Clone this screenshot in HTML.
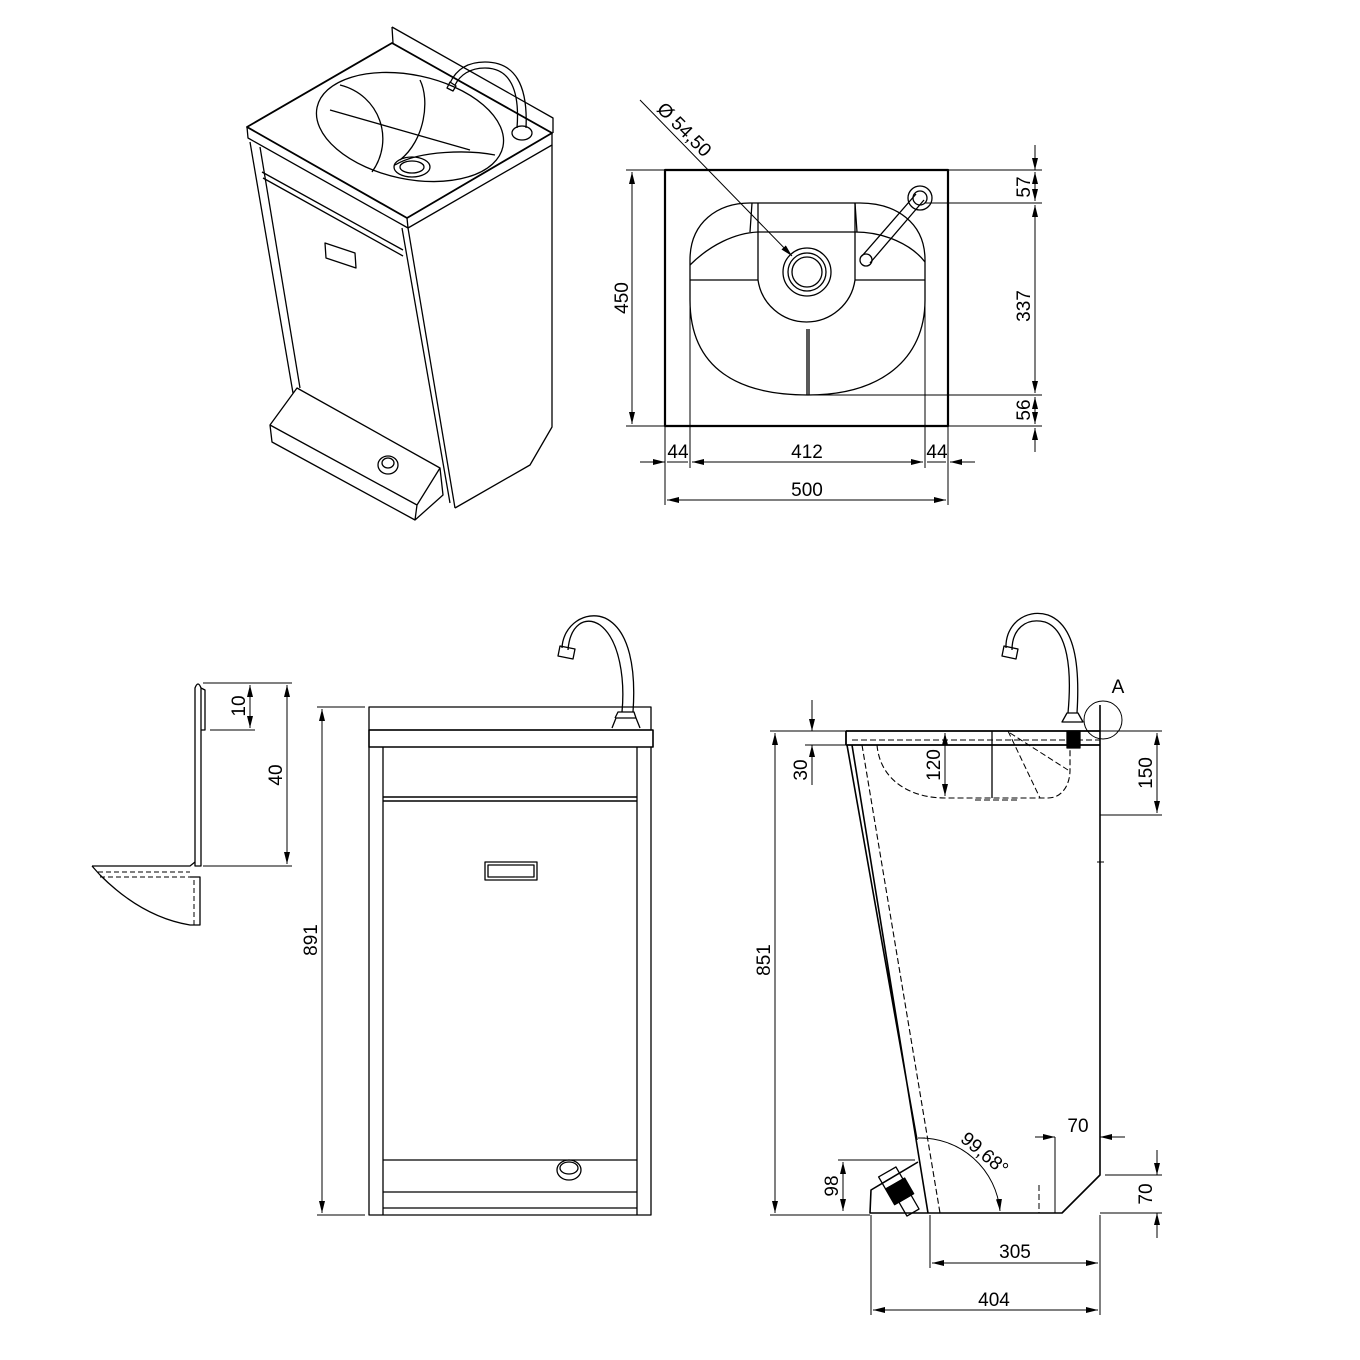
<!DOCTYPE html>
<html><head><meta charset="utf-8"><style>
html,body{margin:0;padding:0;background:#fff}
svg{display:block}
text{font-family:"Liberation Sans",sans-serif;font-size:19px;fill:#000}
</style></head><body>
<svg width="1360" height="1360" viewBox="0 0 1360 1360" xmlns="http://www.w3.org/2000/svg">
<defs>
<marker id="a" viewBox="0 0 12 6" refX="12" refY="3" markerWidth="12" markerHeight="6" orient="auto-start-reverse" markerUnits="userSpaceOnUse"><path d="M0,0 L12,3 L0,6 z" fill="#000"/></marker>
</defs>
<g fill="none" stroke="#000" stroke-width="1.3" stroke-linejoin="round">
<!-- ISO VIEW -->
<path d="M392,27 L553,118 L553,133 M392,27 L393,43"/>
<path d="M247,127 L392,43 L552,133 L407,218 Z" stroke-width="1.8"/>
<path d="M247,127 L248,138 L408,228 L552,145 L552,133 M407,218 L408,228"/>
<ellipse cx="410" cy="127" rx="95" ry="52" transform="rotate(12 410 127)"/>
<path d="M340,85 C380,95 395,140 372,172 M420,80 C430,100 425,140 400,160 M330,110 L470,150 M395,165 C420,150 470,150 495,155"/>
<ellipse cx="412" cy="167" rx="18" ry="10"/><ellipse cx="412" cy="167" rx="12" ry="6"/>
<ellipse cx="522" cy="133" rx="10" ry="7"/>
<path d="M517,128 C520,90 510,68 485,68 C470,68 460,75 455,85 M526,128 C528,85 515,62 485,62 C465,62 455,72 450,83"/>
<path d="M450,82 L456,86 L453,91 L447,88 Z"/>
<path d="M250,142 L293,393 M260,147 L300,388"/>
<path d="M262,172 L403,250 M263,178 L403,256"/>
<path d="M402,228 L450,503 M408,228 L455,508"/>
<path d="M552,145 L552,427 L530,465 L455,508"/>
<path d="M325,243 L355,253 L356,268 L326,258 Z"/>
<path d="M297,388 L270,425 L417,505 L440,468 Z M270,425 L272,442 L415,520 L417,505 M415,520 L443,495 L440,468"/>
<ellipse cx="388" cy="465" rx="10" ry="9"/><ellipse cx="388" cy="463" rx="6" ry="5"/>

<!-- TOP VIEW -->
<rect x="665" y="170" width="283" height="256" stroke-width="2.2"/>
<path d="M690,300 C690,370 740,395 808,395 C880,395 925,360 925,300 L925,260 C925,222 895,203 860,203 L750,203 C718,203 690,222 690,260 Z"/>
<path d="M690,265 C710,245 735,233 758,232 L855,232 C885,232 912,245 925,262"/>
<path d="M752,203 L750,232 M855,203 L857,232"/>
<path d="M758,203 L758,280 A49,49 0 0 0 855,280 L855,203"/>
<path d="M690,280 L758,280 M855,280 L925,280 M807,329 L807,395 M809,329 L809,395"/>
<circle cx="807" cy="272" r="24"/><circle cx="807" cy="272" r="19"/><circle cx="807" cy="272" r="15"/>
<circle cx="920" cy="198" r="12"/><circle cx="920" cy="198" r="7"/>
<path d="M916,194 L862,256 M924,200 L870,263"/>
<circle cx="866" cy="260" r="6"/>
<!-- top view dims -->
<path d="M690,300 L690,468 M925,300 L925,468 M665,426 L665,505 M948,426 L948,505" stroke-width="1"/>
<path d="M626,170 L665,170 M626,426 L665,426" stroke-width="1"/>
<path d="M632,172 L632,424" marker-start="url(#a)" marker-end="url(#a)" stroke-width="1"/>
<path d="M948,170 L1042,170 M925,203 L1042,203 M808,395 L1042,395 M948,426 L1042,426" stroke-width="1"/>
<path d="M1035,145 L1035,170" marker-end="url(#a)" stroke-width="1"/>
<path d="M1035,172 L1035,201" marker-start="url(#a)" marker-end="url(#a)" stroke-width="1"/>
<path d="M1035,205 L1035,393" marker-start="url(#a)" marker-end="url(#a)" stroke-width="1"/>
<path d="M1035,397 L1035,424" marker-start="url(#a)" marker-end="url(#a)" stroke-width="1"/>
<path d="M1035,452 L1035,428" marker-end="url(#a)" stroke-width="1"/>
<path d="M640,462 L665,462" marker-end="url(#a)" stroke-width="1"/>
<path d="M667,462 L688,462 M692,462 L923,462 M927,462 L946,462" stroke-width="1"/>
<path d="M692,462 L923,462" marker-start="url(#a)" marker-end="url(#a)" stroke-width="1"/>
<path d="M975,462 L950,462" marker-end="url(#a)" stroke-width="1"/>
<path d="M667,500 L946,500" marker-start="url(#a)" marker-end="url(#a)" stroke-width="1"/>
<path d="M640,100 L792,256" marker-end="url(#a)" stroke-width="1"/>

<!-- DETAIL VIEW -->
<path d="M195,866 L195,688 Q198,680 201,688 L201,866 Z"/>
<path d="M201,688 L205,690 L205,730 L201,730"/>
<path d="M92,866 L190,866 L195,862 M92,866 L100,875 M100,875 C130,905 160,920 190,925 L200,925 L200,877 L190,877"/>
<path d="M98,872 L190,872 M100,877 L190,877 M194,880 L194,925" stroke-dasharray="5,3" stroke-width="1"/>
<path d="M203,683 L292,683 M210,730 L255,730 M203,866 L292,866" stroke-width="1"/>
<path d="M250,685 L250,728" marker-start="url(#a)" marker-end="url(#a)" stroke-width="1"/>
<path d="M287,685 L287,864" marker-start="url(#a)" marker-end="url(#a)" stroke-width="1"/>

<!-- FRONT VIEW -->
<rect x="369" y="707" width="282" height="23"/>
<rect x="369" y="730" width="284" height="17" stroke-width="1.6"/>
<path d="M369,747 L369,1215 L651,1215 L651,747 M383,747 L383,1215 M637,747 L637,1215"/>
<path d="M383,797 L637,797 M383,801 L637,801" stroke-width="1.5"/>
<path d="M383,1160 L637,1160 M383,1192 L637,1192 M383,1208 L637,1208"/>
<rect x="485" y="862" width="52" height="18"/><rect x="488" y="865" width="46" height="12"/>
<ellipse cx="569" cy="1170" rx="12" ry="10"/><ellipse cx="569" cy="1168" rx="9" ry="6"/>
<path d="M612,728 L616,718 L636,718 L640,728 M615,718 L618,712 L634,712 L636,718"/>
<path d="M622,712 C625,680 620,640 600,625 C585,615 570,625 568,650 M633,712 C636,670 630,630 605,618 C585,610 563,625 562,648"/>
<path d="M560,646 L575,649 L573,659 L558,656 Z"/>
<path d="M317,707 L365,707 M317,1215 L365,1215" stroke-width="1"/>
<path d="M322,709 L322,1213" marker-start="url(#a)" marker-end="url(#a)" stroke-width="1"/>

<!-- SIDE VIEW -->
<path d="M846,731 L1100,731 M846,745 L1100,745 M846,731 L846,745" stroke-width="1.8"/>
<path d="M852,740 L1100,740 M877,745 C880,780 910,798 945,798 L1048,798 C1062,798 1070,785 1070,770 L1070,745 M975,800 L1020,800 M862,745 L940,1213" stroke-dasharray="6,3" stroke-width="1.1"/>
<path d="M1008,731 L1040,798 M1010,733 L1068,770" stroke-dasharray="6,3" stroke-width="1"/>
<path d="M992,731 L992,798"/>
<path d="M847,745 L917,1140 M852,745 L928,1213" stroke-width="1.6"/>
<path d="M1100,705 L1100,1175 L1062,1213 L870,1213 L871,1190 L918,1162" stroke-width="1.6"/>
<path d="M1039,1185 L1039,1213" stroke-dasharray="6,3" stroke-width="1"/>
<circle cx="1103" cy="720" r="19" stroke-width="1"/>
<rect x="1067" y="731" width="13" height="17" fill="#000"/>
<path d="M1062,722 L1067,713 L1078,713 L1083,722 Z"/>
<path d="M1068,713 C1072,670 1068,630 1045,622 C1025,617 1012,630 1012,650 M1077,713 C1080,665 1075,625 1048,615 C1025,608 1005,625 1006,648"/>
<path d="M1004,646 L1018,649 L1016,659 L1002,656 Z"/>
<g transform="rotate(-30 900 1190)"><rect x="888" y="1168" width="20" height="14"/><rect x="888" y="1182" width="22" height="18" fill="#000"/><rect x="893" y="1200" width="14" height="16"/></g>
<!-- angle -->
<path d="M918,1138 A80,80 0 0 1 1000,1211" marker-end="url(#a)" stroke-width="1"/>
<path d="M925,1138 L918,1138" stroke-width="1"/>
<!-- side dims -->
<path d="M805,731 L846,731 M805,745 L846,745" stroke-width="1"/>
<path d="M812,700 L812,731" marker-end="url(#a)" stroke-width="1"/>
<path d="M812,785 L812,745" marker-end="url(#a)" stroke-width="1"/>
<path d="M770,731 L846,731 M770,1215 L870,1215" stroke-width="1"/>
<path d="M775,733 L775,1213" marker-start="url(#a)" marker-end="url(#a)" stroke-width="1"/>
<path d="M945,733 L945,796" marker-start="url(#a)" marker-end="url(#a)" stroke-width="1"/>
<path d="M1100,731 L1162,731 M1100,815 L1162,815 M1097,862 L1104,862" stroke-width="1"/>
<path d="M1157,733 L1157,813" marker-start="url(#a)" marker-end="url(#a)" stroke-width="1"/>
<path d="M1055,1137 L1055,1213 M1100,1137 L1100,1130" stroke-width="1"/>
<path d="M1035,1137 L1055,1137" marker-end="url(#a)" stroke-width="1"/>
<path d="M1125,1137 L1100,1137" marker-end="url(#a)" stroke-width="1"/>
<path d="M1105,1175 L1162,1175 M1100,1213 L1162,1213" stroke-width="1"/>
<path d="M1157,1150 L1157,1175" marker-end="url(#a)" stroke-width="1"/>
<path d="M1157,1238 L1157,1213" marker-end="url(#a)" stroke-width="1"/>
<path d="M838,1160 L915,1160" stroke-width="1"/>
<path d="M843,1162 L843,1211" marker-start="url(#a)" marker-end="url(#a)" stroke-width="1"/>
<path d="M930,1215 L930,1268 M1100,1215 L1100,1315 M871,1215 L871,1315" stroke-width="1"/>
<path d="M932,1263 L1098,1263" marker-start="url(#a)" marker-end="url(#a)" stroke-width="1"/>
<path d="M873,1310 L1098,1310" marker-start="url(#a)" marker-end="url(#a)" stroke-width="1"/>
</g>
<!-- texts -->
<text x="686" y="125" transform="rotate(45 672 122)" text-anchor="middle">Ø 54,50</text>
<text x="628" y="298" transform="rotate(-90 628 298)" text-anchor="middle">450</text>
<text x="1030" y="187" transform="rotate(-90 1030 187)" text-anchor="middle">57</text>
<text x="1030" y="306" transform="rotate(-90 1030 306)" text-anchor="middle">337</text>
<text x="1030" y="410" transform="rotate(-90 1030 410)" text-anchor="middle">56</text>
<text x="678" y="458" text-anchor="middle">44</text>
<text x="807" y="458" text-anchor="middle">412</text>
<text x="937" y="458" text-anchor="middle">44</text>
<text x="807" y="496" text-anchor="middle">500</text>
<text x="245" y="706" transform="rotate(-90 245 706)" text-anchor="middle">10</text>
<text x="282" y="775" transform="rotate(-90 282 775)" text-anchor="middle">40</text>
<text x="317" y="940" transform="rotate(-90 317 940)" text-anchor="middle">891</text>
<text x="807" y="770" transform="rotate(-90 807 770)" text-anchor="middle">30</text>
<text x="770" y="960" transform="rotate(-90 770 960)" text-anchor="middle">851</text>
<text x="940" y="765" transform="rotate(-90 940 765)" text-anchor="middle">120</text>
<text x="1152" y="773" transform="rotate(-90 1152 773)" text-anchor="middle">150</text>
<text x="1152" y="1194" transform="rotate(-90 1152 1194)" text-anchor="middle">70</text>
<text x="838" y="1186" transform="rotate(-90 838 1186)" text-anchor="middle">98</text>
<text x="1078" y="1132" text-anchor="middle">70</text>
<text x="1015" y="1258" text-anchor="middle">305</text>
<text x="994" y="1306" text-anchor="middle">404</text>
<text x="1118" y="693" text-anchor="middle">A</text>
<text x="985" y="1160" transform="rotate(40 985 1153)" text-anchor="middle">99,68°</text>
</svg>
</body></html>
